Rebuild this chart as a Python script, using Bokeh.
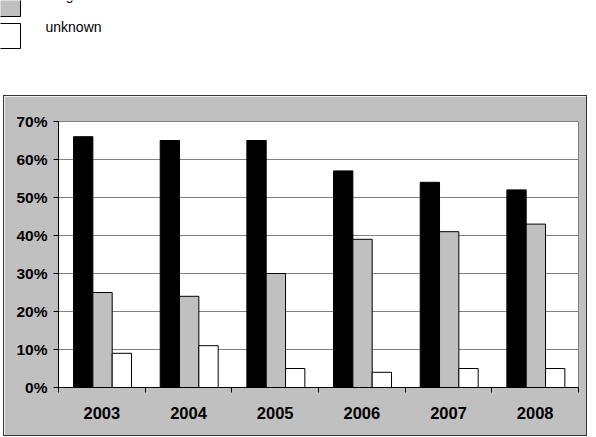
from bokeh.plotting import figure
from bokeh.layouts import column, row
from bokeh.models import Spacer, FixedTicker, PrintfTickFormatter, Range1d, ColumnDataSource
from bokeh.core.properties import value
from bokeh.embed import file_html
from bokeh.resources import INLINE

years = ["2003", "2004", "2005", "2006", "2007", "2008"]
series_names = ["Dutch", "Belgian", "unknown"]
series_colors = ["#000000", "#c0c0c0", "#ffffff"]
s1 = [66, 65, 65, 57, 54, 52]
s2 = [25, 24, 30, 39, 41, 43]
s3 = [9, 11, 5, 4, 5, 5]
y_ticks = [0, 10, 20, 30, 40, 50, 60, 70]

FONT = "Liberation Sans"

# ---- legend strip (top) ----
leg = figure(width=596, height=95, x_range=Range1d(0, 596), y_range=Range1d(95, 0),
             x_axis_location=None, y_axis_location=None, min_border=0,
             outline_line_color=None, toolbar_location=None, output_backend="svg",
             background_fill_color="white", border_fill_color="white")
leg.grid.visible = False
for i, (name, col) in enumerate(zip(series_names, series_colors)):
    top = -41 + 32 * i
    leg.quad(left=-1, right=20, top=top, bottom=top + 25, fill_color=col,
             line_color="#000000", line_width=1)
    leg.text(x=[45], y=[top + 3], text=[name], text_font=value(FONT),
             text_font_size="14px", text_color="#000000",
             text_baseline="middle", text_align="left")

# ---- main chart ----
p = figure(width=584, height=341, x_range=Range1d(0, 6), y_range=Range1d(0, 70),
           toolbar_location=None, output_backend="svg",
           min_border_left=54, min_border_right=10, min_border_top=25, min_border_bottom=50,
           border_fill_color="#c0c0c0", background_fill_color="white",
           outline_line_color="#808080", outline_line_width=1)
p.styles = {"border": "1px solid #333333"}

bw = 0.223
offsets = [-bw, 0.0, bw]
for vals, col, off in zip([s1, s2, s3], series_colors, offsets):
    xs = [i + 0.5 + off + 0.008 for i in range(len(years))]
    src = ColumnDataSource(dict(x=xs, top=vals))
    p.vbar(x="x", top="top", bottom=0, width=bw, source=src, fill_color=col,
           line_color="#000000", line_width=1)

p.xgrid.visible = False
p.ygrid.grid_line_color = "#808080"
p.ygrid.grid_line_width = 1

p.yaxis.ticker = FixedTicker(ticks=y_ticks, minor_ticks=[])
p.yaxis.formatter = PrintfTickFormatter(format="%d%%")
p.yaxis.major_tick_out = 5
p.yaxis.major_tick_in = 0
p.yaxis.minor_tick_line_color = None
p.yaxis.major_label_standoff = 6

centers = [i + 0.5 for i in range(len(years))]
p.xaxis.ticker = FixedTicker(ticks=centers, minor_ticks=list(range(len(years) + 1)))
p.xaxis.major_label_overrides = {c: y for c, y in zip(centers, years)}
p.xaxis.major_tick_out = 0
p.xaxis.major_tick_in = 0
p.xaxis.minor_tick_out = 5
p.xaxis.minor_tick_in = 0
p.xaxis.major_label_standoff = 14

for ax in (p.xaxis[0], p.yaxis[0]):
    ax.axis_line_color = "#000000"
    ax.major_tick_line_color = "#000000"
    ax.major_label_text_font = FONT
    ax.major_label_text_font_style = "bold"
    ax.major_label_text_color = "#000000"
p.yaxis.major_label_text_font_size = "15.5px"
p.xaxis.major_label_text_font_size = "16.5px"
p.xaxis.minor_tick_line_color = "#000000"

layout = column(leg, row(Spacer(width=3), p))
open("out.html", "w").write(file_html(layout, INLINE))
